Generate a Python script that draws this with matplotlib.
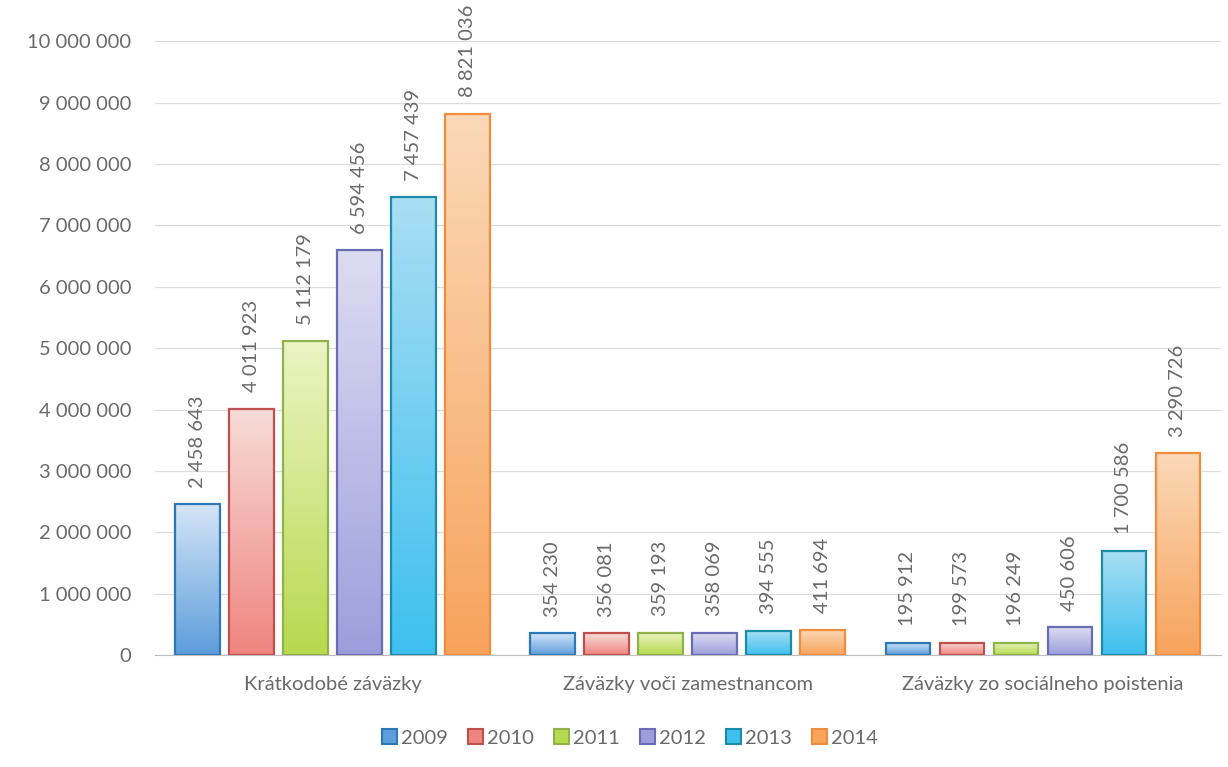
import matplotlib
matplotlib.use("Agg")
import matplotlib.pyplot as plt
import numpy as np
from matplotlib.colors import LinearSegmentedColormap
from matplotlib.patches import Patch

categories = ["Krátkodobé záväzky", "Záväzky voči zamestnancom", "Záväzky zo sociálneho poistenia"]
years = ["2009", "2010", "2011", "2012", "2013", "2014"]
values = {
    "2009": [2458643, 354230, 195912],
    "2010": [4011923, 356081, 199573],
    "2011": [5112179, 359193, 196249],
    "2012": [6594456, 358069, 450606],
    "2013": [7457439, 394555, 1700586],
    "2014": [8821036, 411694, 3290726],
}
yticks = list(range(0, 10000001, 1000000))

# (top colour, bottom colour, edge colour)
styles = {
    "2009": ("#d4e5f7", "#5d9ddb", "#2f78b8"),
    "2010": ("#f7dcd8", "#ef8580", "#c0504d"),
    "2011": ("#ecf4c4", "#b7d94e", "#8fb24a"),
    "2012": ("#dcdcf2", "#9c9edc", "#6a6cb4"),
    "2013": ("#a9def4", "#3ec0ef", "#1d8aa6"),
    "2014": ("#fbd9b8", "#f7a35c", "#f08c3c"),
}

plt.rcParams['font.family'] = ['Lato', 'DejaVu Sans']
txt = "#6a6a6a"
fs = 14.5

fig = plt.figure(figsize=(12.28, 7.67), dpi=100)
ax = fig.add_axes([0.126, 0.146, 0.868, 0.8])

n = len(years)
step = 0.152
bw = 0.126
x = np.arange(len(categories))

def fmt(v):
    return f"{v:,}".replace(",", " ")

for i, yr in enumerate(years):
    top, bot, edge = styles[yr]
    cmap = LinearSegmentedColormap.from_list(yr, [bot, top])
    offs = x + (i - (n - 1) / 2) * step
    bars = ax.bar(offs, values[yr], width=bw, color="none", edgecolor=edge, linewidth=1.6, zorder=3)
    for b, v in zip(bars, values[yr]):
        x0 = b.get_x(); w = b.get_width(); h = b.get_height()
        grad = np.linspace(0, 1, 256).reshape(-1, 1)
        im = ax.imshow(grad, cmap=cmap, aspect="auto", origin="lower",
                       extent=[x0, x0 + w, 0, h], zorder=2)
        im.set_clip_path(b)
        ax.text(b.get_x() + w / 2, h + 270000, fmt(v), rotation=90, ha="center", va="bottom",
                fontsize=fs, color=txt, zorder=4)

ax.set_xlim(-0.5, 2.5)
ax.set_ylim(0, 10000000)
ax.set_yticks(yticks)
ax.set_yticklabels([fmt(t) for t in yticks], fontsize=fs, color=txt)
ax.set_xticks(x)
ax.set_xticklabels(categories, fontsize=fs, color=txt)
ax.tick_params(axis="y", length=0, pad=17)
ax.tick_params(axis="x", length=0, pad=15)
ax.grid(axis="y", color="#dcdcdc", linewidth=0.9, zorder=0)
for s in ["top", "right", "left"]:
    ax.spines[s].set_visible(False)
ax.spines["bottom"].set_color("#bfbfbf")

handles = [Patch(facecolor=styles[y][1], edgecolor=styles[y][2], linewidth=1.5, label=y) for y in years]
fig.legend(handles=handles, loc="center", bbox_to_anchor=(0.513, 0.038), ncol=6, frameon=False,
           prop={"size": fs}, labelcolor=txt, handlelength=0.75, handleheight=0.75,
           handletextpad=0.2, columnspacing=1.0)

fig.savefig("out.png", dpi=100, facecolor="white")
